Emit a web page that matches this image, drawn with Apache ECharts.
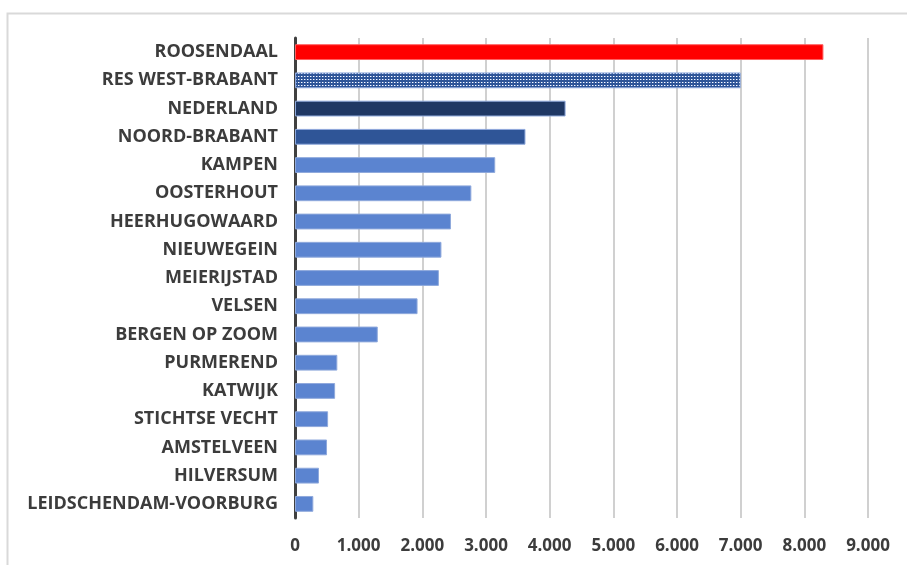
<!DOCTYPE html>
<html>
<head>
<meta charset="utf-8">
<script src="https://cdn.jsdelivr.net/npm/echarts@6/dist/echarts.min.js"></script>
<style>
  html, body { margin: 0; padding: 0; background: #fff; }
  #chart { width: 907px; height: 565px; }
</style>
</head>
<body>
<div id="chart"></div>
<script>
const categories = [
  'ROOSENDAAL', 'RES WEST-BRABANT', 'NEDERLAND', 'NOORD-BRABANT', 'KAMPEN',
  'OOSTERHOUT', 'HEERHUGOWAARD', 'NIEUWEGEIN', 'MEIERIJSTAD', 'VELSEN',
  'BERGEN OP ZOOM', 'PURMEREND', 'KATWIJK', 'STICHTSE VECHT', 'AMSTELVEEN',
  'HILVERSUM', 'LEIDSCHENDAM-VOORBURG'
]
const values = [
  8300, 7000, 4250, 3620, 3145,
  2770, 2450, 2300, 2260, 1925,
  1300, 665, 630, 520, 503,
  377, 288
]
const xTicks = [0, 1000, 2000, 3000, 4000, 5000, 6000, 7000, 8000, 9000]

// dotted fill for the RES bar
const tile = document.createElement('canvas')
tile.width = 3
tile.height = 3
const tctx = tile.getContext('2d')
tctx.fillStyle = '#2f5597'
tctx.fillRect(0, 0, 3, 3)
tctx.fillStyle = '#ffffff'
tctx.fillRect(1, 1, 1, 1)
tctx.fillStyle = '#7f9bd6'
tctx.fillRect(2, 1, 1, 1)

const barColor = (name) => {
  if (name === 'ROOSENDAAL') return '#ff0000'
  if (name === 'RES WEST-BRABANT') return { image: tile, repeat: 'repeat' }
  if (name === 'NEDERLAND') return '#1f3864'
  if (name === 'NOORD-BRABANT') return '#2f5597'
  return '#5b84d0'
}

const chart = echarts.init(document.getElementById('chart'))

const option = {
  animation: false,
  backgroundColor: '#ffffff',
  graphic: [{
    type: 'rect',
    shape: { x: 7.5, y: 13.5, width: 1000, height: 1000 },
    style: { fill: 'none', stroke: '#d9d9d9', lineWidth: 2 },
    z: -1
  }],
  grid: {
    left: 295,
    right: 39,
    top: 38,
    bottom: 47
  },
  xAxis: {
    type: 'value',
    min: xTicks[0],
    max: xTicks[xTicks.length - 1],
    interval: 1000,
    axisLine: { show: false },
    axisTick: { show: false },
    splitLine: { lineStyle: { color: '#d0d0d0', width: 2 } },
    axisLabel: {
      margin: 20,
      color: '#3c3c3c',
      fontFamily: 'Open Sans',
      fontWeight: 'bold',
      fontSize: 17,
      formatter: (v) => v === 0 ? '0' : v.toLocaleString('de-DE')
    }
  },
  yAxis: {
    type: 'category',
    data: categories,
    inverse: true,
    axisLine: { lineStyle: { color: '#404040', width: 3 } },
    axisTick: { show: false },
    axisLabel: {
      margin: 17,
      color: '#3c3c3c',
      fontFamily: 'Open Sans',
      fontWeight: 'bold',
      fontSize: 18
    }
  },
  series: [{
    type: 'bar',
    barCategoryGap: '44%',
    data: values.map((v, i) => ({
      value: v,
      itemStyle: {
        color: barColor(categories[i]),
        borderColor: categories[i] === 'ROOSENDAAL' ? '#ff6060' : '#8fa9dc',
        borderWidth: 1
      }
    }))
  }]
}

chart.setOption(option)
</script>
</body>
</html>
